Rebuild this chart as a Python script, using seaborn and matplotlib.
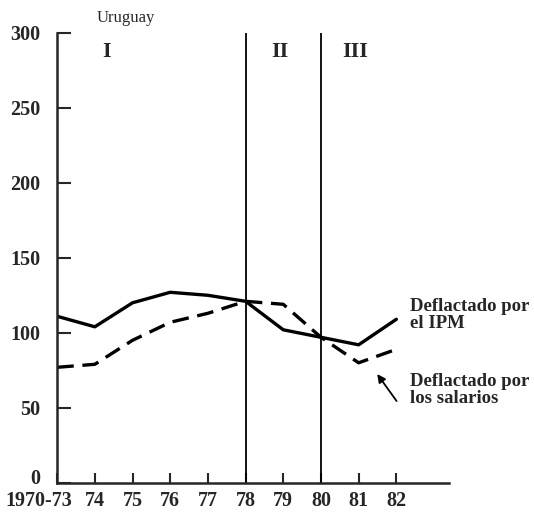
import numpy as np
import matplotlib
matplotlib.use("Agg")
import matplotlib.pyplot as plt
import matplotlib.transforms as mtransforms
import pandas as pd
import seaborn as sns

# data
years = ["1970-73", "74", "75", "76", "77", "78", "79", "80", "81", "82"]
ipm = [111, 104, 120, 127, 125, 121, 102, 97, 92, 109]
salarios = [77, 79, 95, 107, 113, 121, 119, 97, 80, 89]
periods = ["I", "II", "III"]
period_x = [1.3, 5.9, 7.9]
breaks = [5, 7]  # 78 and 80
yticks = [0, 50, 100, 150, 200, 250, 300]

sns.set_style("ticks")
plt.rcParams["font.family"] = ["Liberation Serif", "DejaVu Serif"]

df = pd.DataFrame({
    "pos": list(range(len(years))) * 2,
    "valor": ipm + salarios,
    "serie": ["IPM"] * len(years) + ["salarios"] * len(years),
})

fig = plt.figure(figsize=(5.34, 5.12), dpi=100)
ax = fig.add_axes([0.107, 0.057, 0.734, 0.879])

sns.lineplot(data=df, x="pos", y="valor", hue="serie", style="serie",
             palette=["black", "black"], dashes={"IPM": "", "salarios": (5, 2.6)},
             linewidth=2.4, legend=False, ax=ax)

for b in breaks:
    ax.plot([b, b], [0, 300], color="black", lw=1.3)

ax.set_xlim(0, 10.4)
ax.set_ylim(0, 300)
ax.set_xticks(range(len(years)))
ax.set_xticklabels(years)
ax.set_yticks(yticks)
ax.set_xlabel("")
ax.set_ylabel("")
sns.despine(ax=ax)
for s in ["left", "bottom"]:
    ax.spines[s].set_linewidth(1.8)
ax.tick_params(axis="both", direction="in", width=1.5, labelsize=14.5)
ax.tick_params(axis="y", length=10, pad=12)
ax.tick_params(axis="x", length=7, pad=6)
for lab in ax.get_xticklabels() + ax.get_yticklabels():
    lab.set_fontweight("bold")
first = ax.get_xticklabels()[0]
first.set_transform(first.get_transform() +
                    mtransforms.ScaledTranslation(-0.18, 0, fig.dpi_scale_trans))
zero = ax.get_yticklabels()[0]
zero.set_transform(zero.get_transform() +
                   mtransforms.ScaledTranslation(0, 0.06, fig.dpi_scale_trans))

ax.text(1.05, 310, "Uruguay", fontsize=12, ha="left", va="center", clip_on=False)
for name, px in zip(periods, period_x):
    ax.text(px, 287, name, fontsize=16, fontweight="bold", ha="center", va="center")

ax.text(9.36, 112, "Deflactado por\nel IPM", fontsize=13.5, fontweight="bold",
        ha="left", va="center", linespacing=1.0, clip_on=False)
ax.text(9.36, 62, "Deflactado por\nlos salarios", fontsize=13.5, fontweight="bold",
        ha="left", va="center", linespacing=1.0, clip_on=False)
ax.annotate("", xy=(8.45, 74), xytext=(9.05, 53),
            arrowprops=dict(arrowstyle="-|>", color="black", lw=1.3,
                            mutation_scale=12), annotation_clip=False)

fig.savefig("out.png", dpi=100)
